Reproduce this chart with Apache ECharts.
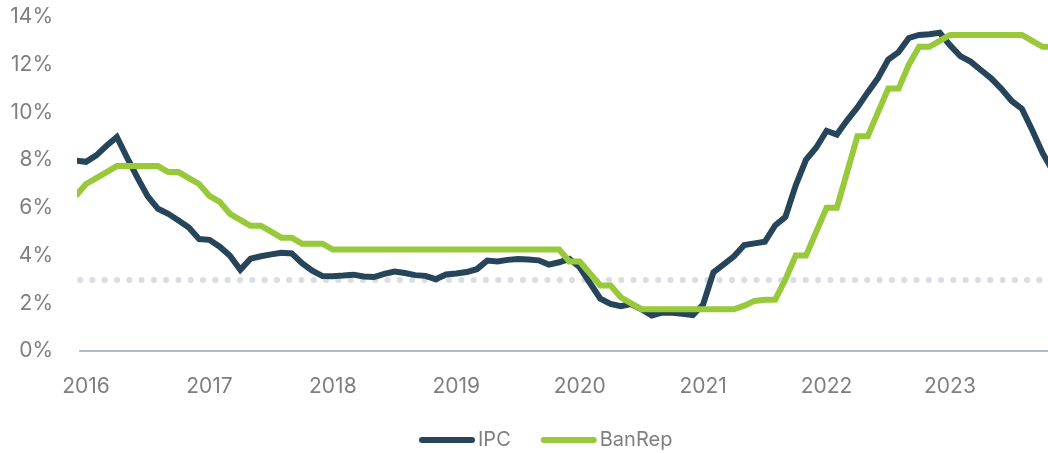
<!DOCTYPE html>
<html>
<head>
<meta charset="utf-8">
<title>IPC vs BanRep</title>
<script src="https://cdn.jsdelivr.net/npm/echarts@6/dist/echarts.min.js"></script>
<style>
  html, body { margin: 0; padding: 0; background: #ffffff; }
  #chart { width: 1048px; height: 453px; }
</style>
</head>
<body>
<div id="chart"></div>
<script>
// Monthly observations, March 2016 to February 2024
const months = [
  '2016-03','2016-04','2016-05','2016-06','2016-07','2016-08','2016-09','2016-10','2016-11','2016-12',
  '2017-01','2017-02','2017-03','2017-04','2017-05','2017-06','2017-07','2017-08','2017-09','2017-10','2017-11','2017-12',
  '2018-01','2018-02','2018-03','2018-04','2018-05','2018-06','2018-07','2018-08','2018-09','2018-10','2018-11','2018-12',
  '2019-01','2019-02','2019-03','2019-04','2019-05','2019-06','2019-07','2019-08','2019-09','2019-10','2019-11','2019-12',
  '2020-01','2020-02','2020-03','2020-04','2020-05','2020-06','2020-07','2020-08','2020-09','2020-10','2020-11','2020-12',
  '2021-01','2021-02','2021-03','2021-04','2021-05','2021-06','2021-07','2021-08','2021-09','2021-10','2021-11','2021-12',
  '2022-01','2022-02','2022-03','2022-04','2022-05','2022-06','2022-07','2022-08','2022-09','2022-10','2022-11','2022-12',
  '2023-01','2023-02','2023-03','2023-04','2023-05','2023-06','2023-07','2023-08','2023-09','2023-10','2023-11','2023-12',
  '2024-01','2024-02'
];

// Annual consumer price inflation (%)
const ipc = [
  7.98, 7.93, 8.20, 8.60, 8.97, 8.10, 7.27, 6.48, 5.96, 5.75,
  5.47, 5.18, 4.69, 4.66, 4.37, 3.99, 3.40, 3.87, 3.97, 4.05, 4.12, 4.09,
  3.68, 3.37, 3.14, 3.13, 3.16, 3.20, 3.12, 3.10, 3.23, 3.33, 3.27, 3.18,
  3.15, 3.01, 3.21, 3.25, 3.31, 3.43, 3.79, 3.75, 3.82, 3.86, 3.84, 3.80,
  3.62, 3.72, 3.86, 3.51, 2.85, 2.19, 1.97, 1.88, 1.97, 1.75, 1.49, 1.61,
  1.60, 1.56, 1.51, 1.95, 3.30, 3.63, 3.97, 4.44, 4.51, 4.58, 5.26, 5.62,
  6.94, 8.01, 8.53, 9.23, 9.07, 9.67, 10.21, 10.84, 11.44, 12.22, 12.53, 13.12,
  13.25, 13.28, 13.34, 12.82, 12.36, 12.13, 11.78, 11.43, 10.99, 10.48, 10.15, 9.25,
  8.30, 7.55
];

// Central bank policy rate (%)
const banrep = [
  6.50, 7.00, 7.25, 7.50, 7.75, 7.75, 7.75, 7.75, 7.75, 7.50,
  7.50, 7.25, 7.00, 6.50, 6.25, 5.75, 5.50, 5.25, 5.25, 5.00, 4.75, 4.75,
  4.50, 4.50, 4.50, 4.25, 4.25, 4.25, 4.25, 4.25, 4.25, 4.25, 4.25, 4.25,
  4.25, 4.25, 4.25, 4.25, 4.25, 4.25, 4.25, 4.25, 4.25, 4.25, 4.25, 4.25,
  4.25, 4.25, 3.75, 3.75, 3.25, 2.75, 2.75, 2.25, 2.00, 1.75, 1.75, 1.75,
  1.75, 1.75, 1.75, 1.75, 1.75, 1.75, 1.75, 1.90, 2.10, 2.15, 2.15, 3.00,
  4.00, 4.00, 5.00, 6.00, 6.00, 7.50, 9.00, 9.00, 10.00, 11.00, 11.00, 12.00,
  12.75, 12.75, 13.00, 13.25, 13.25, 13.25, 13.25, 13.25, 13.25, 13.25, 13.25, 13.00,
  12.75, 12.75
];

// Year tick labels and the month each one sits on
const yearLabels = ['2016', '2017', '2018', '2019', '2020', '2021', '2022', '2023'];
const yearLabelMonths = ['2016-04', '2017-04', '2018-04', '2019-04', '2020-04', '2021-04', '2022-04', '2023-04'];

// Inflation target (%)
const targetRate = 3;

const yTicks = ['0%', '2%', '4%', '6%', '8%', '10%', '12%', '14%'];

const yearTickIdx = yearLabelMonths.map(m => months.indexOf(m));
const toPoints = arr => arr.map((v, i) => [i, v]);

const textColor = '#7f7f7f';
const fontFamily = 'Inter, "Open Sans", sans-serif';

const chart = echarts.init(document.getElementById('chart'), null, { renderer: 'canvas' });

chart.setOption({
  animation: false,
  backgroundColor: '#ffffff',
  grid: { left: 80, right: 0, top: 17, bottom: 102, containLabel: false },
  legend: {
    data: ['IPC', 'BanRep'],
    left: 414,
    top: 425,
    icon: 'path://M3,0 L53,0 A3,3 0 0 1 53,6 L3,6 A3,3 0 0 1 3,0 Z',
    itemWidth: 56,
    itemHeight: 6,
    itemGap: 30,
    textStyle: { color: textColor, fontSize: 20, fontFamily: fontFamily, padding: [0, 0, 0, -2] }
  },
  xAxis: {
    type: 'value',
    min: 0.417,
    max: 94.53,
    axisLine: { show: true, onZero: false, lineStyle: { color: '#b3bac4', width: 2 } },
    axisTick: { show: false },
    splitLine: { show: false },
    axisLabel: {
      customValues: yearTickIdx,
      margin: 25,
      color: textColor,
      fontSize: 21,
      fontFamily: fontFamily,
      formatter: v => yearLabels[yearTickIdx.indexOf(v)] || ''
    }
  },
  yAxis: {
    type: 'value',
    min: 0,
    max: 14,
    interval: 2,
    axisLine: { show: false },
    axisTick: { show: false },
    splitLine: { show: false },
    axisLabel: {
      margin: 27,
      color: textColor,
      fontSize: 21,
      fontFamily: fontFamily,
      formatter: v => yTicks[v / 2]
    }
  },
  series: [
    {
      name: 'IPC',
      type: 'line',
      color: '#26455a',
      data: toPoints(ipc),
      showSymbol: false,
      symbol: 'none',
      clip: true,
      z: 3,
      lineStyle: { width: 6, color: '#26455a', join: 'miter' },
      markLine: {
        silent: true,
        symbol: 'none',
        z: 1,
        label: { show: false },
        lineStyle: { color: '#d9dce0', width: 6, type: [0.1, 12.2], cap: 'round' },
        data: [{ yAxis: targetRate }]
      }
    },
    {
      name: 'BanRep',
      type: 'line',
      color: '#98c93a',
      data: toPoints(banrep),
      showSymbol: false,
      symbol: 'none',
      clip: true,
      z: 4,
      lineStyle: { width: 6, color: '#98c93a', join: 'miter' }
    }
  ]
});
</script>
</body>
</html>
